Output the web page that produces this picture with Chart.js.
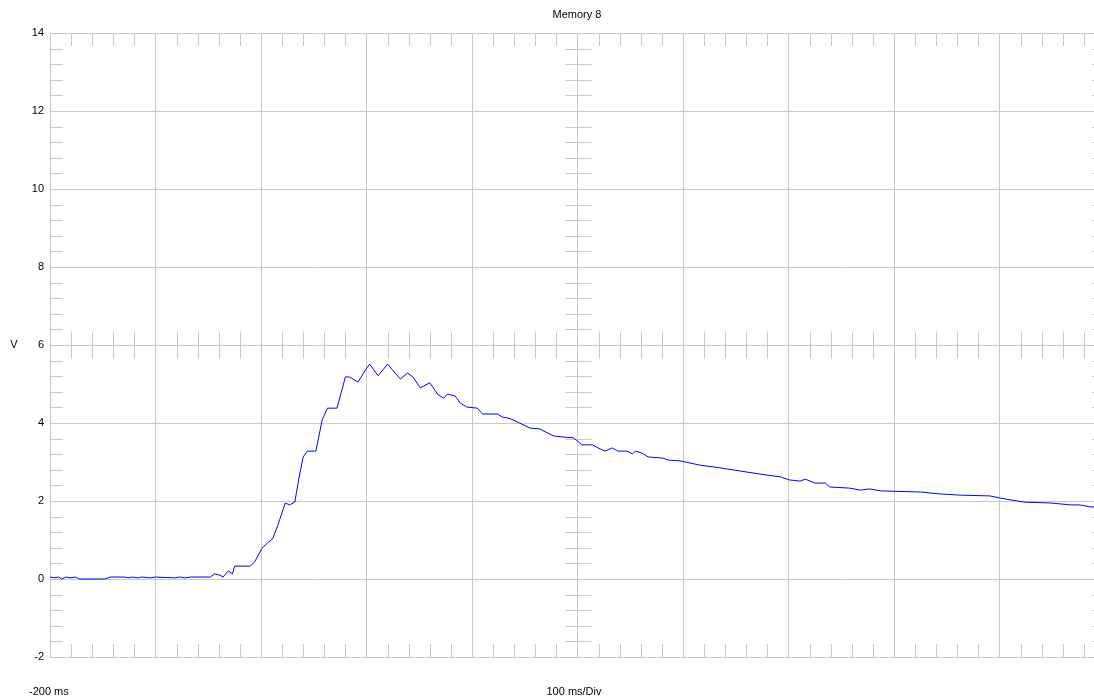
<!DOCTYPE html>
<html>
<head>
<meta charset="utf-8">
<title>Memory 8</title>
<script src="https://cdn.jsdelivr.net/npm/chart.js@4.4.1/dist/chart.umd.min.js"></script>
<style>
  html, body { margin: 0; padding: 0; background: #fff; overflow: hidden; }
  #wrap { width: 1110px; height: 699px; }
</style>
</head>
<body>
<div id="wrap"><canvas id="scope" width="1110" height="699"></canvas></div>
<script>
// time in ms (100 ms/Div, starting at -200 ms)
const times = [
  -200, -196, -192, -189, -185, -181, -176, -172, -148, -143,
  -129, -126, -122, -117, -113, -105, -100, -82, -77, -72,
  -67, -48, -44, -39, -36, -31, -27, -25, -10, -6,
  1, 6, 11, 16, 23, 27, 32, 36, 40, 44,
  52, 58, 63, 72, 80, 84, 92, 99, 103, 111,
  120, 132, 139, 144, 151, 160, 168, 173, 177, 184,
  189, 195, 205, 210, 224, 229, 234, 239, 245, 255,
  264, 272, 277, 286, 296, 300, 304, 314, 318, 326,
  333, 338, 347, 352, 355, 361, 367, 381, 386, 397,
  416, 435, 454, 473, 492, 501, 511, 516, 525, 535,
  539, 558, 568, 577, 587, 625, 644, 663, 691, 700,
  710, 724, 748, 767, 776, 786, 790
];
// voltage in V
const volts = [
  0.05, 0.03, 0.05, 0.0, 0.05, 0.03, 0.05, 0.0, 0.0, 0.05,
  0.05, 0.03, 0.05, 0.03, 0.05, 0.03, 0.05, 0.03, 0.05, 0.03,
  0.05, 0.05, 0.13, 0.10, 0.05, 0.21, 0.13, 0.33, 0.33, 0.44,
  0.79, 0.92, 1.03, 1.38, 1.95, 1.90, 1.97, 2.59, 3.13, 3.28,
  3.28, 4.08, 4.38, 4.38, 5.18, 5.18, 5.05, 5.36, 5.51, 5.21,
  5.51, 5.13, 5.28, 5.18, 4.90, 5.03, 4.72, 4.64, 4.74, 4.69,
  4.51, 4.41, 4.38, 4.23, 4.23, 4.15, 4.13, 4.08, 4.00, 3.87,
  3.85, 3.74, 3.67, 3.64, 3.62, 3.54, 3.44, 3.44, 3.38, 3.28,
  3.36, 3.28, 3.28, 3.21, 3.28, 3.23, 3.13, 3.10, 3.05, 3.03,
  2.92, 2.85, 2.77, 2.69, 2.62, 2.54, 2.51, 2.56, 2.46, 2.46,
  2.36, 2.33, 2.28, 2.31, 2.26, 2.23, 2.18, 2.15, 2.13, 2.08,
  2.03, 1.97, 1.95, 1.90, 1.90, 1.85, 1.85
];
const yTicks = [14, 12, 10, 8, 6, 4, 2, 0, -2];

const gridColor = "#c8c8c8";
const font = "11px 'Liberation Sans', Arial, sans-serif";

// minor ticks along the border and the centre cross, like a scope graticule
const graticule = {
  id: "graticule",
  beforeDatasetsDraw(chart) {
    const { ctx, chartArea: a, scales: { x, y } } = chart;
    const cx = Math.round(x.getPixelForValue(300)) + 0.5;
    const cy = Math.round(y.getPixelForValue(6)) + 0.5;
    const len = 13;
    ctx.save();
    ctx.strokeStyle = gridColor;
    ctx.lineWidth = 1;
    ctx.beginPath();
    for (let t = -200; t <= 800; t += 20) {
      if (t % 100 === 0) continue;
      const px = Math.round(x.getPixelForValue(t)) + 0.5;
      ctx.moveTo(px, a.top); ctx.lineTo(px, a.top + len);
      ctx.moveTo(px, a.bottom); ctx.lineTo(px, a.bottom - len);
      ctx.moveTo(px, cy - len); ctx.lineTo(px, cy + len);
    }
    for (let i = 0; i <= 40; i++) {
      if (i % 5 === 0) continue;
      const v = -2 + i * 0.4;
      const py = Math.round(y.getPixelForValue(v)) + 0.5;
      ctx.moveTo(a.left, py); ctx.lineTo(a.left + len, py);
      ctx.moveTo(a.right, py); ctx.lineTo(a.right - len, py);
      ctx.moveTo(cx - len, py); ctx.lineTo(cx + len, py);
    }
    ctx.stroke();
    ctx.restore();
  },
  afterDraw(chart) {
    const { ctx, scales: { y } } = chart;
    ctx.save();
    ctx.font = font;
    ctx.fillStyle = "#000";
    ctx.textBaseline = "middle";
    ctx.textAlign = "center";
    ctx.fillText("Memory 8", 577, 15);
    ctx.fillText("100 ms/Div", 574, 692);
    ctx.fillText("V", 14, y.getPixelForValue(6));
    ctx.textAlign = "left";
    ctx.fillText("-200 ms", 29, 692);
    ctx.restore();
  }
};

new Chart(document.getElementById("scope"), {
  type: "line",
  data: {
    datasets: [{
      label: "Memory 8",
      data: times.map((t, i) => ({ x: t, y: volts[i] })),
      borderColor: "#0000ff",
      borderWidth: 1,
      pointRadius: 0,
      tension: 0,
      fill: false
    }]
  },
  options: {
    responsive: false,
    animation: false,
    layout: { padding: { top: 33, right: 5, bottom: 42, left: 0 } },
    plugins: { legend: { display: false }, tooltip: { enabled: false } },
    scales: {
      x: {
        type: "linear",
        min: -200,
        max: 800,
        afterFit: s => { s.height = 0; },
        afterBuildTicks: s => {
          s.ticks = [];
          for (let t = -200; t <= 800; t += 100) s.ticks.push({ value: t });
        },
        ticks: { display: false },
        grid: { color: gridColor, drawTicks: false },
        border: { color: gridColor }
      },
      y: {
        min: -2,
        max: 14,
        afterFit: s => { s.width = 50; },
        afterBuildTicks: s => { s.ticks = yTicks.map(v => ({ value: v })); },
        ticks: {
          color: "#000",
          padding: 6,
          font: { family: "'Liberation Sans', Arial, sans-serif", size: 11 }
        },
        grid: { color: gridColor, drawTicks: false },
        border: { color: gridColor }
      }
    }
  },
  plugins: [graticule]
});
</script>
</body>
</html>
